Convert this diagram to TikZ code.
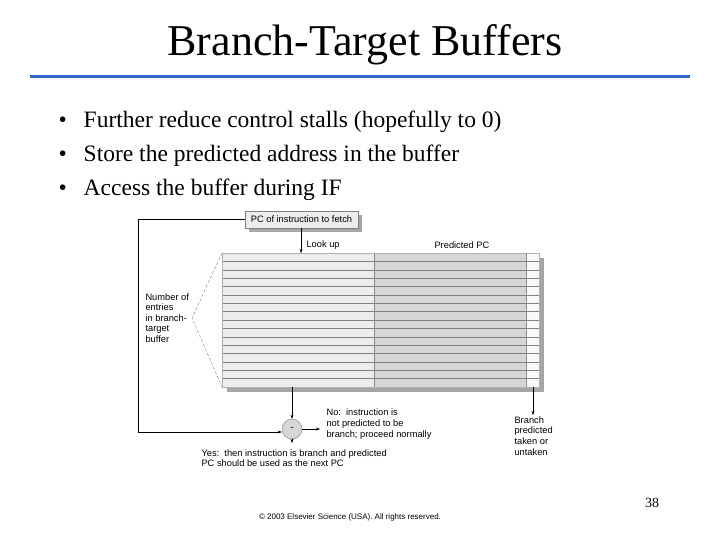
\documentclass[tikz,border=0pt]{standalone}
\usepackage{fontspec}
\setmainfont{Liberation Serif}
\setsansfont{Liberation Sans}
\usetikzlibrary{arrows.meta, positioning}
\definecolor{myblue}{RGB}{51,102,204}
\definecolor{mylight}{RGB}{236,236,236}
\definecolor{mydark}{RGB}{214,214,214}
\tikzset{>=Stealth}
\begin{document}
\begin{tikzpicture}[x=1pt,y=-1pt,
  bullet/.style={anchor=west, font=\fontsize{23.5}{26}\selectfont},
  fig/.style={font=\sffamily\fontsize{9.3}{10.6}\selectfont, align=left},
  arr/.style={->, >={Stealth[length=4pt,width=3pt]}, thin},
  shadowbox/.style={fill=gray!70, draw=none}
]
\useasboundingbox (0,0) rectangle (720,540);
%the title
\node (title) at (365,45) {\fontsize{44}{48}\selectfont Branch-Target Buffers};
\draw[myblue, line width=3pt] (30,77) -- (690,77);
%the bullets
\foreach \t [count=\i] in {Further reduce control stalls (hopefully to 0),
  Store the predicted address in the buffer, Access the buffer during IF}
  \node[bullet] (b\i) at (55,88+34*\i) {\textbullet\hspace{17pt}\t};
%the fetch box
\fill[shadowbox] (249,215) rectangle (362,232);
\node[draw=gray, fill=mylight, minimum width=113pt, minimum height=17pt, inner sep=0pt,
  font=\sffamily\fontsize{9.3}{10.6}\selectfont] (pc) at (301.5,219.5) {PC of instruction to fetch};
%the buffer
\fill[shadowbox] (227,258) rectangle (544,392);
\fill[mylight] (222,253) rectangle (374,387);
\fill[mydark] (374,253) rectangle (526,387);
\fill[white!95!gray] (526,253) rectangle (539,387);
\foreach \i in {1,...,15}
  \draw[gray!\ifodd\i 60\else 100\fi] (222,253+8.375*\i) -- (539,253+8.375*\i);
\draw[gray!90] (374,253) -- (374,387) (526,253) -- (526,387);
\draw[gray!60] (222,253) rectangle (539,387);
\coordinate (lu) at (301,253);
\coordinate (bt) at (292,387);
\coordinate (br) at (533,387);
%the bracket
\draw[gray, densely dashed] (222,253) -- (192,318) -- (222,387);
\node[fig, anchor=west] (num) at (142,318) {Number of\\entries\\in branch-\\target\\buffer};
%labels and arrows
\node[fig, anchor=west] (lul) at (303,245) {Look up};
\node[fig, anchor=west] (ppc) at (431,245) {Predicted PC};
\draw[arr] (pc.south -| lu) -- (lu);
\node[circle, draw=gray, fill=mydark, minimum size=20pt, inner sep=0pt] (cmp) at (292,429) {\sffamily -};
\draw[arr] (bt) -- (cmp);
\draw[arr] (pc.west) -- (138,219.5) -- (138,432) -- (cmp.west |- 0,432);
\coordinate (no) at (320,429);
\coordinate (yes) at (292,443);
\draw[arr] (cmp) -- (no);
\draw[arr] (cmp) -- (yes);
\node[fig, anchor=west] (nol) at (323,424) {No:\ \ instruction is\\not predicted to be\\branch; proceed normally};
\node[fig, anchor=north west] (yesl) at (198,446) {Yes:\ \ then instruction is branch and predicted\\PC should be used as the next PC};
\coordinate (tk) at (533,415);
\draw[arr] (br) -- (tk);
\node[fig, anchor=north west] (tkl) at (511,413) {Branch\\predicted\\taken or\\untaken};
%footer
\node[font=\fontsize{14}{16}\selectfont] (pg) at (652,503) {38};
\node[font=\sffamily\fontsize{8}{9}\selectfont] (copy) at (350,517) {© 2003 Elsevier Science (USA). All rights reserved.};
\end{tikzpicture}
\end{document}
